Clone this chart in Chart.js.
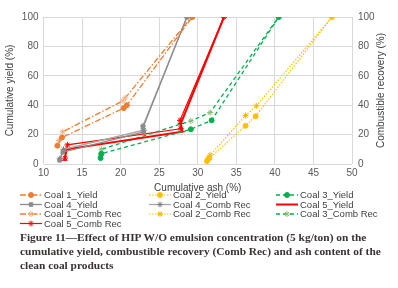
<!DOCTYPE html>
<html lang="en">
<head>
  <meta charset="UTF-8">
  <title>Cumulative yield and combustible recovery vs ash</title>
  <script src="https://cdn.jsdelivr.net/npm/chart.js"></script>
  <style>
    body { margin: 0; background: #fff; }
    #wrap { position: relative; width: 398px; height: 232px; }
    #caption {
      position: absolute; left: 20px; top: 230px; width: 372px;
      font-family: "Liberation Serif", "DejaVu Serif", serif; font-weight: bold;
      font-size: 11.4px; line-height: 14px; color: #3b3232;
    }
  </style>
</head>
<body>
  <div id="wrap"><canvas id="chart"></canvas></div>
  <div id="caption">Figure 11—Effect of HIP W/O emulsion concentration (5 kg/ton) on the cumulative yield, combustible recovery (Comb Rec) and ash content of the clean coal products</div>

  <script>
    // cumulative ash (%) and yield / combustible recovery (%) per coal
    const c1AshY = [11.8, 12.4, 20.4, 20.8, 29.3];
    const c1Yield = [12.5, 18, 38, 40, 100];
    const c1AshR = [12.0, 12.5, 20.3, 20.6, 29.2];
    const c1Rec = [16, 22, 43, 45, 100];

    const c2AshY = [31.2, 31.5, 36.2, 37.5, 47.4];
    const c2Yield = [2, 4, 26, 32.5, 100];
    const c2AshR = [31.3, 31.6, 36.2, 37.6, 47.4];
    const c2Rec = [3.5, 6, 33, 39.5, 100];

    const c3AshY = [17.4, 17.5, 29.1, 31.8, 40.5];
    const c3Yield = [4, 7, 23.6, 29.7, 100];
    const c3AshR = [17.4, 17.5, 29.1, 31.6, 40.5];
    const c3Rec = [6, 10, 29.3, 35, 100];

    const c4AshY = [12.1, 12.5, 23.0, 22.9, 28.6];
    const c4Yield = [2.5, 8, 21.8, 24.8, 100];
    const c4AshR = [12.1, 12.6, 23.0, 22.9, 28.6];
    const c4Rec = [3.5, 10, 23, 26, 100];

    const c5AshY = [12.7, 13.0, 28.0, 27.8, 33.4];
    const c5Yield = [2.5, 10, 22, 27.5, 100];
    const c5AshR = [12.8, 13.1, 27.8, 27.7, 33.4];
    const c5Rec = [4, 13, 24, 29.7, 100];

    const xTicks = [10, 15, 20, 25, 30, 35, 40, 45, 50];
    const yTicks = [0, 10, 20, 30, 40, 50, 60, 70, 80, 90, 100];

    const pts = (xs, ys) => xs.map((x, i) => ({ x: x, y: ys[i] }));

    const orange = '#ED7D31', gold = '#FFC000', green = '#00B050', gray = '#8C8C8C', red = '#FF0000';

    function ds(label, data, color, dash, pointStyle, width, radius, ptColor) {
      return {
        label: label, data: data, showLine: true,
        borderColor: color, borderWidth: width, borderDash: dash,
        pointStyle: pointStyle, pointRadius: radius,
        pointBackgroundColor: ptColor || color, pointBorderColor: ptColor || color,
        pointBorderWidth: 1
      };
    }

    const dashDot = [6, 2, 1.5, 2];
    const datasets = [
      ds('Coal 1_Yield', pts(c1AshY, c1Yield), orange, dashDot, 'circle', 1.3, 2.5),
      ds('Coal 2_Yield', pts(c2AshY, c2Yield), gold, [1.5, 1.5], 'circle', 1.2, 2.5),
      ds('Coal 3_Yield', pts(c3AshY, c3Yield), green, [4, 3], 'circle', 1.3, 2.5),
      ds('Coal 4_Yield', pts(c4AshY, c4Yield), gray, [], 'rect', 1.3, 2.5),
      ds('Coal 4_Comb Rec', pts(c4AshR, c4Rec), '#A6A6A6', [], 'star', 1.3, 3, '#7f7f7f'),
      ds('Coal 5_Yield', pts(c5AshY, c5Yield), red, [], 'line', 2, 3),
      ds('Coal 1_Comb Rec', pts(c1AshR, c1Rec), orange, dashDot, 'star', 1.3, 3, '#F4B183'),
      ds('Coal 2_Comb Rec', pts(c2AshR, c2Rec), gold, [1.5, 1.5], 'star', 1.2, 3, '#F5B800'),
      ds('Coal 3_Comb Rec', pts(c3AshR, c3Rec), green, [4, 3], 'star', 1.3, 3, '#8FBF70'),
      ds('Coal 5_Comb Rec', pts(c5AshR, c5Rec), red, [], 'star', 1.2, 3)
    ];

    // legend in a 3-column grid, like the spreadsheet original
    const gridLegend = {
      id: 'gridLegend',
      afterDraw(chart) {
        const ctx = chart.ctx;
        const colX = [20, 149, 276];
        const rowY = [195, 204.5, 214, 223.5];
        ctx.save();
        ctx.font = '9.5px "Liberation Sans", Arial, sans-serif';
        ctx.textBaseline = 'middle';
        chart.data.datasets.forEach((d, i) => {
          const x = colX[i % 3], y = rowY[Math.floor(i / 3)];
          ctx.strokeStyle = d.borderColor;
          ctx.lineWidth = d.borderWidth;
          ctx.setLineDash(d.borderDash);
          ctx.beginPath(); ctx.moveTo(x, y); ctx.lineTo(x + 22, y); ctx.stroke();
          ctx.setLineDash([]);
          ctx.fillStyle = d.pointBackgroundColor;
          ctx.strokeStyle = d.pointBorderColor;
          ctx.lineWidth = 1;
          Chart.helpers.drawPoint(ctx, { pointStyle: d.pointStyle, radius: d.pointRadius, rotation: 0, borderWidth: 1 }, x + 11, y);
          ctx.fillStyle = '#404040';
          ctx.fillText(d.label, x + 24, y + 0.5);
        });
        // right axis title, reading bottom to top
        const r = chart.scales.y2;
        ctx.font = '10px "Liberation Sans", Arial, sans-serif';
        ctx.translate(381, (r.top + r.bottom) / 2);
        ctx.rotate(-Math.PI / 2);
        ctx.textAlign = 'center';
        ctx.fillText('Combustible recovery (%)', 0, 0);
        ctx.restore();
      }
    };

    const tickFont = { family: '"Liberation Sans", Arial, sans-serif', size: 10 };

    new Chart(document.getElementById('chart'), {
      type: 'scatter',
      data: { datasets: datasets },
      plugins: [gridLegend],
      options: {
        responsive: true,
        maintainAspectRatio: false,
        animation: false,
        layout: { padding: { top: 17, right: 0, left: 4, bottom: 38 } },
        plugins: { legend: { display: false }, tooltip: { enabled: false } },
        scales: {
          x: {
            type: 'linear', min: 10, max: 50,
            afterBuildTicks: s => { s.ticks = xTicks.map(v => ({ value: v })); },
            grid: { color: '#D9D9D9', drawTicks: false },
            border: { display: false },
            ticks: { font: tickFont, color: '#595959', padding: 3, maxRotation: 0 },
            title: { display: true, text: 'Cumulative ash (%)', font: tickFont, color: '#404040', padding: { top: 0, bottom: 0 } }
          },
          y: {
            position: 'left', min: 0, max: 100,
            afterBuildTicks: s => { s.ticks = yTicks.map(v => ({ value: v })); },
            afterFit: s => { s.width = 39.5; },
            grid: { color: '#D9D9D9', drawTicks: false },
            border: { display: false },
            ticks: { font: tickFont, color: '#595959', padding: 5 },
            title: { display: true, text: 'Cumulative yield (%)', font: tickFont, color: '#404040', padding: 0 }
          },
          y2: {
            position: 'right', min: 0, max: 100,
            afterBuildTicks: s => { s.ticks = yTicks.map(v => ({ value: v })); },
            afterFit: s => { s.width = 46; },
            grid: { display: false, drawTicks: false },
            border: { display: false },
            ticks: { font: tickFont, color: '#595959', padding: 6 }
          }
        }
      }
    });
  </script>
</body>
</html>
